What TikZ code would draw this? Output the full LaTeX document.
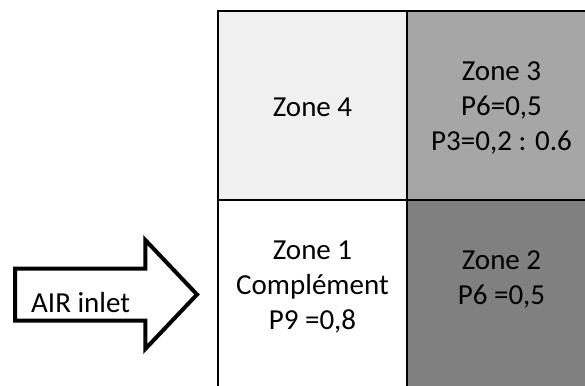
\documentclass[tikz,border=0pt]{standalone}
\usepackage{fontspec}
\setmainfont{Carlito}
\usetikzlibrary{shapes.arrows,positioning}
\definecolor{zoneLight}{RGB}{240,240,240}
\definecolor{zoneMid}{RGB}{166,166,166}
\definecolor{zoneDark}{RGB}{128,128,128}

\begin{document}
\begin{tikzpicture}[
  x=1pt, y=-1pt,
  cell/.style={draw, line width=2.5pt, minimum width=189pt, minimum height=189pt,
               inner sep=0pt, outer sep=0pt},
  lbl/.style={align=center, font=\fontsize{29}{35}\selectfont},
  inlet/.style={single arrow, draw, line width=4pt, fill=white, outer sep=0pt,
                inner xsep=2pt, inner ysep=6.5pt, text height=35pt, text depth=0pt,
                minimum height=182pt,
                single arrow head extend=28.5pt, single arrow tip angle=93,
                font=\fontsize{29}{35}\selectfont}
]
\useasboundingbox (0,0) rectangle (585,385);
\clip (0,0) rectangle (585,385);

% zones
\node[cell, fill=zoneLight, anchor=north west] (zone4) at (218,11) {};
\node[cell, fill=zoneMid, right=0pt of zone4] (zone3) {};
\node[cell, fill=white, below=0pt of zone4] (zone1) {};
\node[cell, fill=zoneDark, right=0pt of zone1] (zone2) {};

\node[lbl, yshift=-1.5pt] (zone4text) at (zone4.center) {Zone 4};
\node[lbl, yshift=-2.5pt] (zone3text) at (zone3.center) {Zone 3\\P6=0,5\\P3=0,2 : 0.6};
\node[lbl, yshift=7pt] (zone1text) at (zone1.center) {Zone 1\\Complément\\P9 =0,8};
\node[lbl, yshift=15pt] (zone2text) at (zone2.center) {Zone 2\\P6 =0,5};

% inlet
\node[inlet, anchor=tail] (air) at (15,294.5) {AIR inlet\hspace*{26pt}};
\end{tikzpicture}
\end{document}
